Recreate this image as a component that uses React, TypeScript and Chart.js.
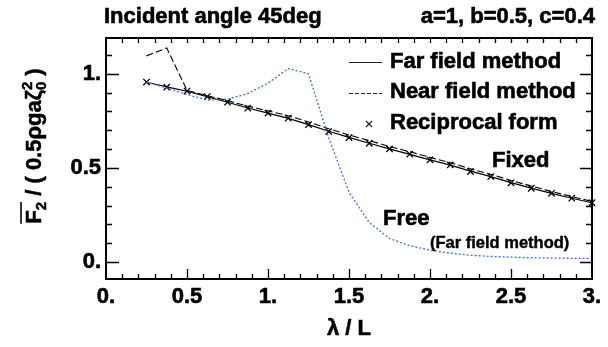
import React, { useEffect, useRef } from "react";
import { Chart, registerables } from "chart.js";

Chart.register(...registerables);

// ---- data ----
const lambdaOverL = [0.25, 0.375, 0.5, 0.625, 0.75, 0.875, 1.0, 1.125, 1.25, 1.375, 1.5, 1.625, 1.75, 1.875, 2.0, 2.125, 2.25, 2.375, 2.5, 2.625, 2.75, 2.875, 3.0];
const farField = [0.955, 0.93, 0.907, 0.879, 0.849, 0.818, 0.791, 0.763, 0.73, 0.695, 0.662, 0.631, 0.601, 0.572, 0.543, 0.515, 0.483, 0.454, 0.422, 0.393, 0.365, 0.339, 0.315];
const nearField = [1.095, 1.137, 0.912, 0.884, 0.857, 0.828, 0.803, 0.777, 0.744, 0.708, 0.675, 0.645, 0.614, 0.586, 0.556, 0.528, 0.495, 0.466, 0.433, 0.404, 0.375, 0.348, 0.322];
const reciprocal = [0.956, 0.929, 0.908, 0.879, 0.849, 0.817, 0.791, 0.764, 0.73, 0.693, 0.661, 0.631, 0.601, 0.573, 0.543, 0.516, 0.481, 0.454, 0.421, 0.392, 0.365, 0.339, 0.315];
const freeFarField = [0.955, 0.925, 0.89, 0.86, 0.865, 0.895, 0.95, 1.028, 1.0, 0.66, 0.37, 0.21, 0.125, 0.087, 0.063, 0.047, 0.036, 0.03, 0.026, 0.023, 0.021, 0.02, 0.02];

const xTickValues = [0, 0.5, 1, 1.5, 2, 2.5, 3];
const xTickLabels = ["0.", "0.5", "1.", "1.5", "2.", "2.5", "3."];
const yTickValues = [0, 0.5, 1];
const yTickLabels = ["0.", "0.5", "1."];

const titleText = "Incident angle 45deg";
const paramText = "a=1, b=0.5, c=0.4";
const legendLabels = ["Far field method", "Near field method", "Reciprocal form"];
const fixedLabel = "Fixed";
const freeLabel = "Free";
const freeNote = "(Far field method)";
const xTitle = "λ / L";

const FONT = '"Liberation Sans", Arial, Helvetica, sans-serif';
const BLUE = "#3f72cc";

const toPts = (ys: number[]) => ys.map((y, i) => ({ x: lambdaOverL[i], y }));

function boldText(ctx: CanvasRenderingContext2D, t: string, x: number, y: number, w = 0.6) {
  ctx.fillText(t, x, y);
  ctx.lineWidth = w;
  ctx.strokeStyle = "#000";
  ctx.strokeText(t, x, y);
}

const decorPlugin = {
  id: "decor",
  afterDraw(chart: any) {
    const { ctx, chartArea: a, scales } = chart;
    const xs = scales.x;
    const ys = scales.y;
    ctx.save();
    ctx.strokeStyle = "#000";
    // frame
    ctx.lineWidth = 2;
    ctx.strokeRect(a.left, a.top, a.right - a.left, a.bottom - a.top);
    // ticks
    ctx.lineWidth = 1.3;
    ctx.beginPath();
    for (let i = 1; i < 30; i++) {
      const px = Math.round(xs.getPixelForValue(i / 10)) + 0.5;
      const major = i % 5 === 0;
      ctx.moveTo(px, a.bottom);
      ctx.lineTo(px, a.bottom - (major ? 10 : 5));
      ctx.moveTo(px, a.top);
      ctx.lineTo(px, a.top + 5);
    }
    for (let i = 0; i <= 11; i++) {
      const py = Math.round(ys.getPixelForValue(i / 10)) + 0.5;
      const major = i % 5 === 0;
      ctx.moveTo(a.left, py);
      ctx.lineTo(a.left + (major ? 13 : 6), py);
      ctx.moveTo(a.right, py);
      ctx.lineTo(a.right - (major ? 12 : 6), py);
    }
    ctx.stroke();

    ctx.fillStyle = "#000";
    ctx.textBaseline = "middle";
    // titles
    ctx.font = `bold 22px ${FONT}`;
    ctx.textAlign = "left";
    boldText(ctx, titleText, a.left - 2, 17);
    ctx.textAlign = "right";
    boldText(ctx, paramText, a.right + 3, 17);

    // legend
    const lx0 = 349, lx1 = 382, tx = 390;
    const rows = [62, 92, 123];
    ctx.font = `bold 22px ${FONT}`;
    ctx.textAlign = "left";
    legendLabels.forEach((t, i) => boldText(ctx, t, tx, rows[i]));
    ctx.lineWidth = 1;
    ctx.strokeStyle = "#222";
    ctx.beginPath();
    ctx.moveTo(lx0, rows[0] + 0.5);
    ctx.lineTo(lx1, rows[0] + 0.5);
    ctx.stroke();
    ctx.setLineDash([4, 2]);
    ctx.beginPath();
    ctx.moveTo(lx0, rows[1] + 1.5);
    ctx.lineTo(lx1, rows[1] + 1.5);
    ctx.stroke();
    ctx.setLineDash([]);
    const mx = 369, my = rows[2] + 1;
    ctx.lineWidth = 1.2;
    ctx.beginPath();
    ctx.moveTo(mx - 3, my - 3);
    ctx.lineTo(mx + 3, my + 3);
    ctx.moveTo(mx + 3, my - 3);
    ctx.lineTo(mx - 3, my + 3);
    ctx.stroke();

    // annotations
    ctx.font = `bold 22px ${FONT}`;
    boldText(ctx, fixedLabel, 492, 161);
    boldText(ctx, freeLabel, 383, 219);
    ctx.font = `bold 16.5px ${FONT}`;
    boldText(ctx, freeNote, 430, 243, 0.4);

    // x axis title
    ctx.font = `bold 22px ${FONT}`;
    ctx.textAlign = "center";
    boldText(ctx, xTitle, (a.left + a.right) / 2, 329);

    // y axis title (rotated, with overline, sub/superscripts)
    const big = `bold 22px ${FONT}`;
    const small = `bold 15px ${FONT}`;
    type Seg = { t: string; f: string; dy: number; stack?: boolean };
    const segs: Seg[] = [
      { t: "F", f: big, dy: 0 },
      { t: "2", f: small, dy: 5 },
      { t: " / ( 0.5ρgaζ", f: big, dy: 0 },
      { t: "0", f: small, dy: 5, stack: true },
      { t: "2", f: small, dy: -9 },
      { t: " )", f: big, dy: 0 },
    ];
    const widths: number[] = segs.map((s) => {
      ctx.font = s.f;
      return ctx.measureText(s.t).width;
    });
    let total = 0;
    segs.forEach((s, i) => {
      if (!s.stack) total += widths[i];
    });
    ctx.save();
    ctx.translate(41, 146);
    ctx.rotate(-Math.PI / 2);
    ctx.textAlign = "left";
    ctx.textBaseline = "alphabetic";
    let cx = -total / 2;
    const fStart = cx;
    let fEnd = cx;
    segs.forEach((s, i) => {
      ctx.font = s.f;
      boldText(ctx, s.t, cx, s.dy, 0.5);
      if (!s.stack) cx += widths[i];
      if (i === 1) fEnd = cx;
    });
    ctx.lineWidth = 1.6;
    ctx.strokeStyle = "#000";
    ctx.beginPath();
    ctx.moveTo(fStart, -20);
    ctx.lineTo(fEnd, -20);
    ctx.stroke();
    ctx.restore();

    ctx.restore();
  },
};

export default function App() {
  const ref = useRef<HTMLCanvasElement | null>(null);

  useEffect(() => {
    if (!ref.current) return;
    const tickFont = { family: FONT, size: 22, weight: "bold" };
    const chart = new Chart(ref.current, {
      type: "line",
      data: {
        datasets: [
          {
            label: "Free (Far field method)",
            data: toPts(freeFarField),
            borderColor: BLUE,
            borderWidth: 1.3,
            borderDash: [2, 2],
            pointRadius: 0,
            tension: 0,
          },
          {
            label: "Near field method",
            data: toPts(nearField),
            borderColor: "#000",
            borderWidth: 1.1,
            borderDash: [7, 3],
            pointRadius: 0,
            tension: 0,
          },
          {
            label: "Far field method",
            data: toPts(farField),
            borderColor: "#000",
            borderWidth: 1.2,
            pointRadius: 0,
            tension: 0,
          },
          {
            label: "Reciprocal form",
            data: toPts(reciprocal),
            showLine: false,
            pointStyle: "crossRot",
            pointRadius: 4.5,
            pointBorderColor: "#000",
            pointBorderWidth: 1.3,
            borderColor: "#000",
            clip: false as any,
          },
        ],
      },
      options: {
        responsive: false,
        animation: false,
        events: [],
        layout: { padding: { left: 0, right: 16, top: 38, bottom: 0 } },
        plugins: { legend: { display: false }, tooltip: { enabled: false }, title: { display: false } },
        scales: {
          x: {
            type: "linear",
            min: 0,
            max: 3,
            grid: { display: false, drawTicks: false },
            border: { display: false },
            afterBuildTicks: (s: any) => {
              s.ticks = xTickValues.map((v) => ({ value: v }));
            },
            afterFit: (s: any) => {
              s.height = 68;
            },
            ticks: {
              padding: 5,
              color: "#000",
              textStrokeColor: "#000",
              textStrokeWidth: 0.6,
              maxRotation: 0,
              autoSkip: false,
              font: tickFont,
              callback: (v: any) => {
                const i = xTickValues.indexOf(Number(v));
                return i >= 0 ? xTickLabels[i] : "";
              },
            },
          },
          y: {
            type: "linear",
            min: -0.09,
            max: 1.19,
            grid: { display: false, drawTicks: false },
            border: { display: false },
            afterBuildTicks: (s: any) => {
              s.ticks = yTickValues.map((v) => ({ value: v }));
            },
            afterFit: (s: any) => {
              s.width = 106;
            },
            ticks: {
              padding: 5,
              color: "#000",
              textStrokeColor: "#000",
              textStrokeWidth: 0.6,
              autoSkip: false,
              font: tickFont,
              callback: (v: any) => {
                const i = yTickValues.indexOf(Number(v));
                return i >= 0 ? yTickLabels[i] : "";
              },
            },
          },
        },
      },
      plugins: [decorPlugin],
    } as any);
    return () => chart.destroy();
  }, []);

  return (
    <div style={{ position: "fixed", left: 0, top: 0, width: 608, height: 347, background: "#fff" }}>
      <canvas ref={ref} width={608} height={347} style={{ display: "block", width: 608, height: 347 }} />
    </div>
  );
}
